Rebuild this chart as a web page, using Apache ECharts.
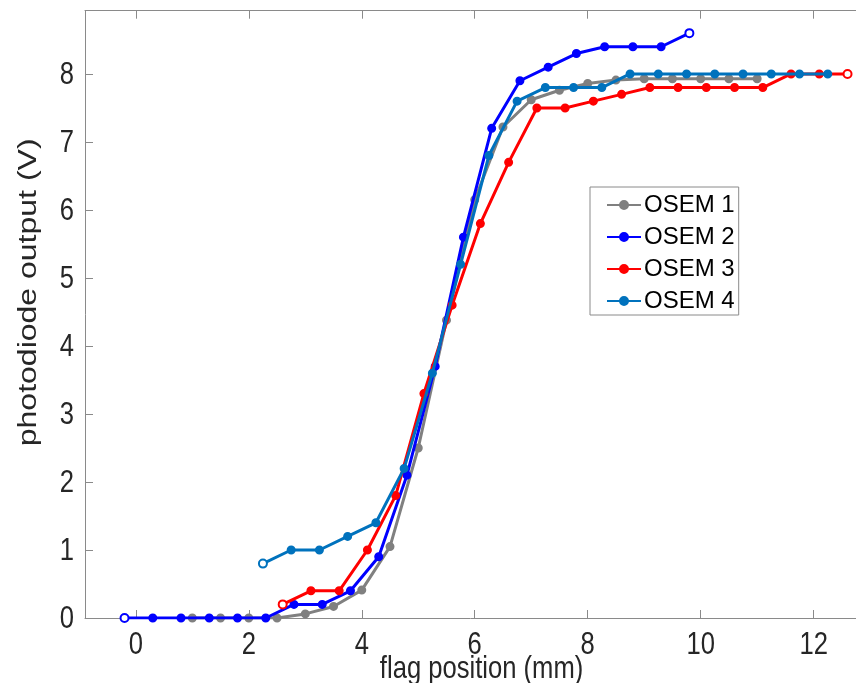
<!DOCTYPE html>
<html>
<head>
<meta charset="utf-8">
<script src="https://cdn.jsdelivr.net/npm/echarts@6/dist/echarts.min.js"></script>
<style>
html,body{margin:0;padding:0;background:#fff;}
#chart{width:856px;height:683px;}
</style>
</head>
<body>
<div id="chart"></div>
<script>
// ---- data ----
const seriesNames = ['OSEM 1', 'OSEM 2', 'OSEM 3', 'OSEM 4'];

const osem1X = [1.0, 1.5, 2.0, 2.5, 3.0, 3.5, 4.0, 4.5, 5.0, 5.5, 6.0, 6.5, 7.0, 7.5, 8.0, 8.5, 9.0, 9.5, 10.0, 10.5, 11.0];
const osem1Y = [0, 0, 0, 0, 0.06, 0.17, 0.41, 1.05, 2.5, 4.38, 6.15, 7.22, 7.62, 7.76, 7.86, 7.91, 7.93, 7.93, 7.93, 7.93, 7.93];

const osem2X = [-0.2, 0.3, 0.8, 1.3, 1.8, 2.3, 2.8, 3.3, 3.8, 4.3, 4.8, 5.3, 5.8, 6.3, 6.8, 7.3, 7.8, 8.3, 8.8, 9.3, 9.8];
const osem2Y = [0, 0, 0, 0, 0, 0, 0.2, 0.2, 0.4, 0.9, 2.1, 3.7, 5.6, 7.2, 7.9, 8.1, 8.3, 8.4, 8.4, 8.4, 8.6];

const osem3X = [2.6, 3.1, 3.6, 4.1, 4.6, 5.1, 5.6, 6.1, 6.6, 7.1, 7.6, 8.1, 8.6, 9.1, 9.6, 10.1, 10.6, 11.1, 11.6, 12.1, 12.6];
const osem3Y = [0.2, 0.4, 0.4, 1.0, 1.8, 3.3, 4.6, 5.8, 6.7, 7.5, 7.5, 7.6, 7.7, 7.8, 7.8, 7.8, 7.8, 7.8, 8.0, 8.0, 8.0];

const osem4X = [2.25, 2.75, 3.25, 3.75, 4.25, 4.75, 5.25, 5.75, 6.25, 6.75, 7.25, 7.75, 8.25, 8.75, 9.25, 9.75, 10.25, 10.75, 11.25, 11.75, 12.25];
const osem4Y = [0.8, 1.0, 1.0, 1.2, 1.4, 2.2, 3.6, 5.2, 6.8, 7.6, 7.8, 7.8, 7.8, 8.0, 8.0, 8.0, 8.0, 8.0, 8.0, 8.0, 8.0];

const xTicks = [0, 2, 4, 6, 8, 10, 12];
const yTicks = [0, 1, 2, 3, 4, 5, 6, 7, 8];

const xTitle = 'flag position (mm)';
const yTitle = 'photodiode output (V)';

// ---- styling ----
const colors = ['#808080', '#0000ff', '#ff0000', '#0072bd'];
// points drawn with an open circle (index lists per series)
const openPoints = [[], [0, 'last'], [0, 'last'], [0]];

function buildData(xs, ys, open) {
  return xs.map((x, i) => {
    const isOpen = open.some(o => (o === 'last' ? i === xs.length - 1 : o === i));
    if (isOpen) {
      return { value: [x, ys[i]], symbol: 'emptyCircle', symbolSize: 8 };
    }
    return [x, ys[i]];
  });
}

const allX = [osem1X, osem2X, osem3X, osem4X];
const allY = [osem1Y, osem2Y, osem3Y, osem4Y];

const axisGray = '#8a8a8a';
const textColor = '#262626';
const fontFamily = '"Liberation Sans", Arial, Helvetica, sans-serif';
const axisFontSize = 32;
const squeeze = 0.8;   // the reference text is horizontally condensed

const chart = echarts.init(document.getElementById('chart'), null, { renderer: 'canvas' });

const series = seriesNames.map((name, k) => ({
  name: name,
  type: 'line',
  data: buildData(allX[k], allY[k], openPoints[k]),
  symbol: 'circle',
  symbolSize: 7.5,
  showAllSymbol: true,
  lineStyle: { color: colors[k], width: 3 },
  itemStyle: { color: colors[k], borderColor: colors[k], borderWidth: 1.5 },
  emphasis: { disabled: true },
  animation: false,
  z: 2 + k
}));

const xMin = -0.9, xMax = 12.75, yMin = 0, yMax = 8.93;

chart.setOption({
  animation: false,
  backgroundColor: '#ffffff',
  grid: { left: 85, right: 0, top: 10.7, bottom: 65, show: false, containLabel: false },
  legend: {
    data: seriesNames,
    orient: 'vertical',
    left: 590, top: 187,
    padding: [6, 4, 2, 16],
    backgroundColor: '#ffffff',
    borderColor: axisGray, borderWidth: 1, borderRadius: 0,
    itemWidth: 34, itemHeight: 10, itemGap: 8,
    textStyle: { fontFamily: fontFamily, fontSize: 24, color: '#000', padding: [0, 0, 0, -2] }
  },
  xAxis: [{
    type: 'value', min: xMin, max: xMax, position: 'bottom',
    splitLine: { show: false },
    axisLine: { show: true, onZero: false, lineStyle: { color: axisGray, width: 1 } },
    axisTick: { show: true, inside: true, length: 8, lineStyle: { color: axisGray }, customValues: xTicks },
    axisLabel: { show: false }
  }, {
    type: 'value', min: xMin, max: xMax, position: 'top',
    splitLine: { show: false },
    axisLine: { show: true, onZero: false, lineStyle: { color: axisGray, width: 1 } },
    axisTick: { show: true, inside: true, length: 8, lineStyle: { color: axisGray }, customValues: xTicks },
    axisLabel: { show: false }
  }],
  yAxis: [{
    type: 'value', min: yMin, max: yMax, position: 'left',
    splitLine: { show: false },
    axisLine: { show: true, onZero: false, lineStyle: { color: axisGray, width: 1 } },
    axisTick: { show: true, inside: true, length: 8, lineStyle: { color: axisGray }, customValues: yTicks },
    axisLabel: { show: false }
  }],
  series: series
});

// ---- axis text, placed from the axis scales and drawn condensed ----
function textEl(str, x, y, align, vAlign, opts) {
  return Object.assign({
    type: 'text', x: x, y: y, silent: true, z: 50,
    scaleX: squeeze,
    style: {
      text: str, fontFamily: fontFamily, fontSize: axisFontSize, fill: textColor,
      align: align, verticalAlign: vAlign, textAlign: align, textVerticalAlign: vAlign
    }
  }, opts || {});
}

const origin = chart.convertToPixel({ gridIndex: 0 }, [xMin, yMin]);
const corner = chart.convertToPixel({ gridIndex: 0 }, [xMax, yMax]);
const axisX = origin[0], axisY = origin[1];
const graphics = [];

xTicks.forEach(v => {
  const p = chart.convertToPixel({ gridIndex: 0 }, [v, yMin]);
  graphics.push(textEl(String(v), p[0], axisY + 11, 'center', 'top'));
});
yTicks.forEach(v => {
  const p = chart.convertToPixel({ gridIndex: 0 }, [xMin, v]);
  graphics.push(textEl(String(v), axisX - 11, p[1] + 1, 'right', 'middle'));
});

// x title centred under the axes box (box extends slightly past the crop)
const xMid = chart.convertToPixel({ gridIndex: 0 }, [(xMin + 13) / 2, yMin])[0];
graphics.push(textEl(xTitle, xMid + 4, 669, 'center', 'middle'));

// y title, rotated
graphics.push({
  type: 'text', x: 29, y: (axisY + corner[1]) / 2 - 22, rotation: Math.PI / 2,
  scaleY: squeeze, silent: true, z: 50,
  style: {
    text: yTitle, fontFamily: fontFamily, fontSize: axisFontSize, fill: textColor,
    align: 'center', verticalAlign: 'middle', textAlign: 'center', textVerticalAlign: 'middle'
  }
});

chart.setOption({ graphic: graphics });
</script>
</body>
</html>
